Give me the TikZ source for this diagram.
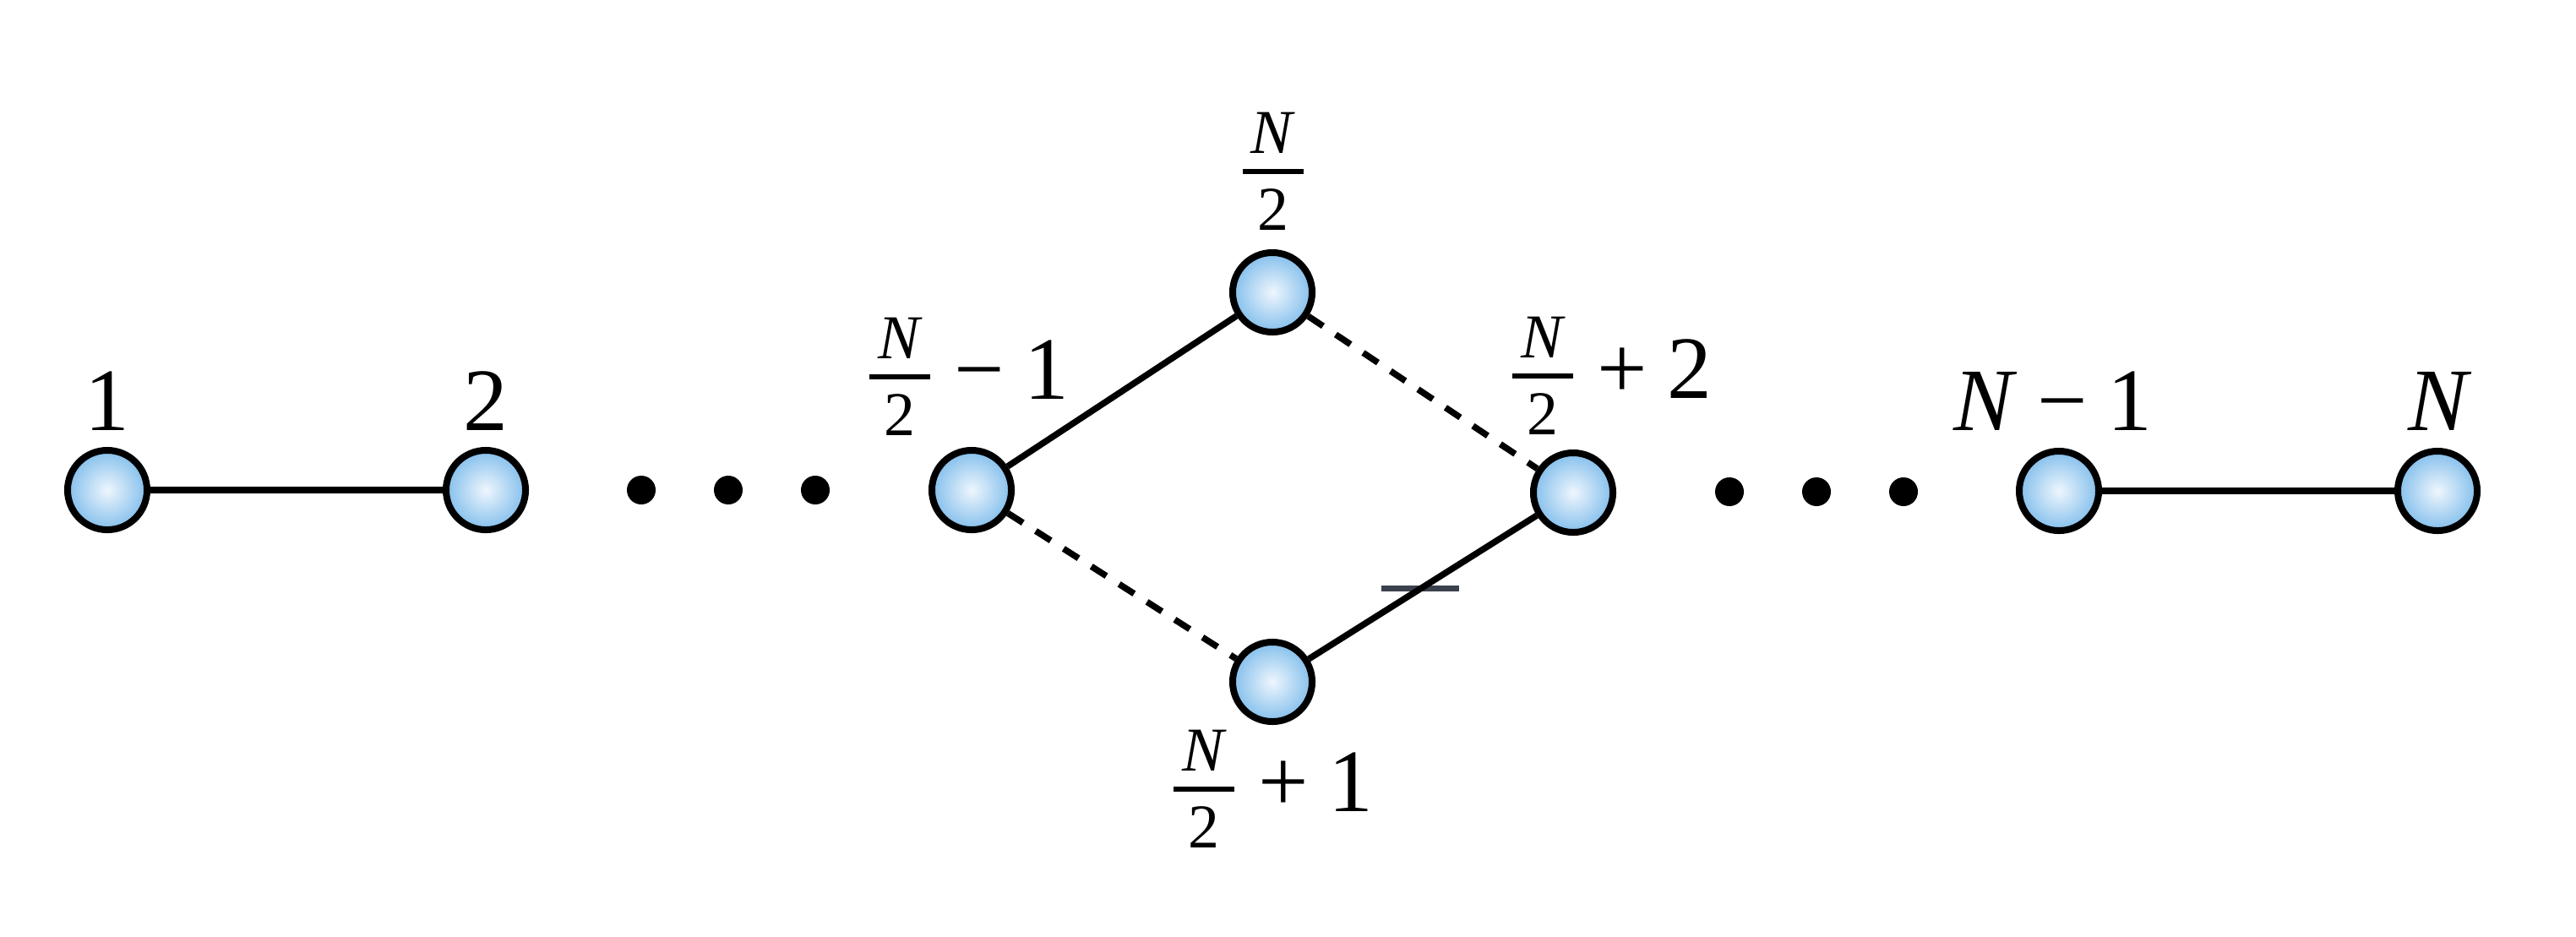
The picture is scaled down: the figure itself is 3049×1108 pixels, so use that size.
\RequirePackage{fix-cm}
\documentclass[tikz,border=0pt]{standalone}
\usepackage{amsmath}
\usepackage{fontspec}
\setmainfont{Liberation Serif}
\definecolor{ballin}{RGB}{238,246,253}
\definecolor{ballout}{RGB}{132,191,236}
\definecolor{tickc}{RGB}{59,66,77}
\newcommand{\halfN}{\genfrac{}{}{0.06cm}{1}{\raisebox{0.06cm}{\makebox[0.72cm]{\fontsize{21}{25}\selectfont\textit{N}}}}{\raisebox{-0.07cm}{\fontsize{21}{25}\selectfont 2}}}
\newcommand{\mminus}{\mathbin{\mbox{−}}}
\newcommand{\mplus}{\mathbin{\mbox{+}}}
\begin{document}
\begin{tikzpicture}[x=0.01cm,y=-0.01cm,
  ball/.style={circle,draw=black,line width=0.08cm,minimum size=0.94cm,inner sep=0pt,inner color=ballin,outer color=ballout},
  edge/.style={line width=0.075cm},
  dashededge/.style={line width=0.075cm,dash pattern=on 0.21cm off 0.18cm},
  lab/.style={anchor=base,inner sep=0pt,font=\fontsize{30}{36}\selectfont},
  dot/.style={circle,fill=black,minimum size=0.34cm,inner sep=0pt},
  tickmark/.style={draw=tickc,line width=0.07cm}]
\useasboundingbox (0,0) rectangle (3049,1108);
% nodes
\node[ball] (n1) at (127,580) {};
\node[ball] (n2) at (575,580) {};
\node[ball] (a) at (1150,580) {};
\node[ball] (b) at (1506,346) {};
\node[ball] (c) at (1506,807) {};
\node[ball] (d) at (1862,583) {};
\node[ball] (e) at (2437,581) {};
\node[ball] (f) at (2885,581) {};
% dots
\node[dot] (p1) at (759,580) {};
\node[dot] (p2) at (862,580) {};
\node[dot] (p3) at (965,580) {};
\node[dot] (q1) at (2047,582) {};
\node[dot] (q2) at (2150,582) {};
\node[dot] (q3) at (2253,582) {};
% labels
\node[lab] (l1) at (127,509) {1};
\node[lab] (l2) at (575,509) {2};
\node[lab] (la) at (1145,472) {$\halfN\mminus\mbox{1}$};
\node[lab] (lb) at (1507,229) {$\halfN$};
\node[lab] (ld) at (1906,471) {$\halfN\mplus\mbox{2}$};
\node[lab] (lc) at (1505,960) {$\halfN\mplus\mbox{1}$};
\node[lab] (le) at (2430,509) {$\mbox{\textit{N}}\mminus\mbox{1}$};
\node[lab] (lf) at (2888,509) {\textit{N}};
% tick mark
\path (c) -- (d) coordinate[pos=0.49] (tk);
\coordinate (tkl) at ([xshift=-0.46cm]tk);
\coordinate (tkr) at ([xshift=0.46cm]tk);
\draw[tickmark] (tkl) -- (tkr);
% edges
\draw[edge] (n1) -- (n2);
\draw[edge] (a) -- (b);
\draw[edge] (c) -- (d);
\draw[edge] (e) -- (f);
\draw[dashededge] (b) -- (d);
\draw[dashededge] (a) -- (c);
\end{tikzpicture}
\end{document}
